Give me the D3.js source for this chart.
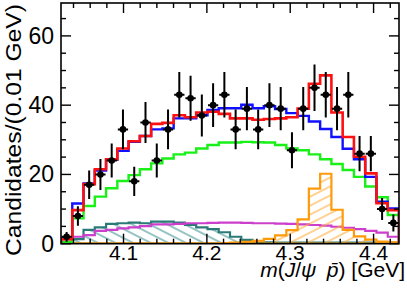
<!DOCTYPE html>
<html>
<head>
<meta charset="utf-8">
<script src="https://cdn.jsdelivr.net/npm/d3@7"></script>
<style>
    html, body { margin: 0; padding: 0; background: #fff; }
    svg { display: block; }
    text { font-family: 'Liberation Sans', Arial, sans-serif; }
</style>
</head>
<body>
<div id="chart"></div>
<script>
'use strict';

// axis range and binning (30 bins across the frame)
const x_range = [4.025, 4.4305];
const n_bins = 30;
const y_range = [0, 69.5];

// tick values
const x_major = [4.1, 4.2, 4.3, 4.4];
const x_minor = [4.04, 4.06, 4.08, 4.12, 4.14, 4.16, 4.18, 4.22, 4.24, 4.26, 4.28, 4.32, 4.34, 4.36, 4.38, 4.42];
const y_major = [0, 20, 40, 60];
const y_minor = [5, 10, 15, 25, 30, 35, 45, 50, 55, 65];

// data (candidates per bin)
const data_counts = [2, 8, 17, 20, 24, 33, 18, 35, 24, 33,
                     43, 42, 37, 40, 43, 33, 39, 33, 40, 39,
                     27, 39, 45, 43, 39, 43, 26, 26, 10, 6];

// fit with the Pc state (red)
const fit_red = [1.3, 9.7, 17.2, 21.5, 24.4, 27.5, 29.6, 31.1, 34.6, 34.9,
                 37.1, 36.5, 37.9, 38.1, 37.5, 36.2, 36.2, 35.8, 36.0, 36.2,
                 36.5, 39.0, 46.2, 48.6, 37.9, 30.8, 25.1, 20.3, 11.7, 9.7];

// fit without the Pc state (blue)
const fit_blue = [1.5, 11.6, 17.4, 21.1, 24.2, 26.8, 29.4, 31.1, 33.0, 33.3,
                  36.2, 36.2, 37.1, 38.6, 39.1, 39.1, 40.1, 39.1, 39.7, 38.9,
                  37.7, 36.9, 35.3, 33.1, 30.8, 27.4, 24.4, 19.3, 12.1, 10.2];

// components
const comp_green = [0.5, 7.3, 10.9, 13.6, 16.0, 18.1, 19.8, 21.5, 23.2, 24.6,
                    25.8, 26.3, 27.5, 28.5, 29.2, 29.2, 29.4, 29.3, 29.2, 28.5,
                    27.5, 27.0, 25.8, 24.4, 23.0, 21.3, 19.3, 16.5, 13.4, 8.3];

const comp_teal = [0.3, 1.3, 4.0, 4.7, 5.7, 5.9, 6.1, 5.9, 6.4, 6.4,
                   6.1, 5.4, 4.7, 4.2, 3.3, 2.0, 1.1, 0.6, 0.4, 0.3,
                   0.3, 0.3, 0.3, 0.3, 0.3, 0.3, 0.3, 0.3, 0.3, 0.3];

const comp_magenta = [0.6, 2.0, 2.5, 3.7, 4.0, 4.4, 4.7, 5.1, 5.6, 5.6,
                      5.7, 5.9, 5.9, 6.0, 6.1, 6.1, 6.0, 5.9, 5.9, 5.8,
                      5.7, 5.6, 5.4, 5.2, 4.9, 4.6, 4.2, 3.7, 3.2, 2.0];

const comp_orange = [0.1, 0.1, 0.1, 0.1, 0.1, 0.1, 0.1, 0.1, 0.1, 0.1,
                     0.1, 0.1, 0.1, 0.1, 0.2, 0.3, 0.5, 0.8, 1.4, 2.4,
                     3.9, 7.0, 15.9, 20.2, 9.8, 4.0, 2.1, 1.2, 0.6, 0.4];

// layout
const W = 407, H = 297;
const margin = { left: 61, right: 8, top: 3, bottom: 53.3 };

const svg = d3.select('#chart').append('svg')
    .attr('width', W)
    .attr('height', H);

const x = d3.scaleLinear().domain(x_range).range([margin.left, W - margin.right]);
const y = d3.scaleLinear().domain(y_range).range([H - margin.bottom, margin.top]);

const bin_w = (x_range[1] - x_range[0]) / n_bins;
const edge = i => x_range[0] + i * bin_w;

// hatch patterns
const defs = svg.append('defs');
function hatch(id, color, angle){
    defs.append('pattern')
        .attr('id', id)
        .attr('patternUnits', 'userSpaceOnUse')
        .attr('width', 8).attr('height', 8)
        .attr('patternTransform', `rotate(${angle})`)
        .append('line')
        .attr('x1', 0).attr('y1', 4).attr('x2', 8).attr('y2', 4)
        .attr('stroke', color)
        .attr('stroke-width', 1.1);
}
hatch('hatch_teal', '#3f9494', 27);
hatch('hatch_orange', '#ffab3a', -27);

svg.append('clipPath').attr('id', 'frame_clip')
    .append('rect')
    .attr('x', margin.left).attr('y', margin.top)
    .attr('width', W - margin.left - margin.right)
    .attr('height', H - margin.top - margin.bottom);

const plot = svg.append('g').attr('clip-path', 'url(#frame_clip)');

// step outline of a histogram
function step_points(values){
    const pts = [[edge(0), 0]];
    values.forEach((v, i) => {
        pts.push([edge(i), v]);
        pts.push([edge(i + 1), v]);
    });
    pts.push([edge(values.length), 0]);
    return pts;
}
const line = d3.line().x(d => x(d[0])).y(d => y(d[1]));

function draw_hist(values, color, width, fill){
    plot.append('path')
        .attr('d', line(step_points(values)) + (fill ? 'Z' : ''))
        .attr('fill', fill || 'none')
        .attr('stroke', color)
        .attr('stroke-width', width)
        .attr('stroke-linejoin', 'miter');
}

draw_hist(comp_teal, '#2a7b78', 2.2, 'url(#hatch_teal)');
draw_hist(comp_magenta, '#cc3fcc', 2.2);
draw_hist(comp_orange, '#ff9a0a', 2.2, 'url(#hatch_orange)');
draw_hist(comp_green, '#18f018', 2.4);
draw_hist(fit_blue, '#1010ff', 2.4);
draw_hist(fit_red, '#ff1010', 2.6);

// data points with poisson errors
const pts_g = plot.append('g');
pts_g.selectAll('line.yerr')
    .data(data_counts)
    .enter()
    .append('line')
    .attr('x1', (d, i) => x(edge(i + 0.5)))
    .attr('x2', (d, i) => x(edge(i + 0.5)))
    .attr('y1', d => y(d - Math.sqrt(d)))
    .attr('y2', d => y(d + Math.sqrt(d)))
    .attr('stroke', '#000')
    .attr('stroke-width', 2);
pts_g.selectAll('line.xerr')
    .data(data_counts)
    .enter()
    .append('line')
    .attr('x1', (d, i) => x(edge(i)) + 0.5)
    .attr('x2', (d, i) => x(edge(i + 1)) - 0.5)
    .attr('y1', d => y(d))
    .attr('y2', d => y(d))
    .attr('stroke', '#000')
    .attr('stroke-width', 2);
pts_g.selectAll('circle')
    .data(data_counts)
    .enter()
    .append('circle')
    .attr('cx', (d, i) => x(edge(i + 0.5)))
    .attr('cy', d => y(d))
    .attr('r', 3.3)
    .attr('fill', '#000');

// frame
const x0 = x(x_range[0]), x1 = x(x_range[1]);
const y0 = y(y_range[0]), y1 = y(y_range[1]);
svg.append('rect')
    .attr('x', x0).attr('y', y1)
    .attr('width', x1 - x0).attr('height', y0 - y1)
    .attr('fill', 'none')
    .attr('stroke', '#000')
    .attr('stroke-width', 1.6);

// ticks on all four sides, pointing inwards
const ticks_g = svg.append('g').attr('stroke', '#000').attr('stroke-width', 1.4);
function x_ticks(vals, len){
    vals.forEach(v => {
        ticks_g.append('line').attr('x1', x(v)).attr('x2', x(v)).attr('y1', y0).attr('y2', y0 - len);
        ticks_g.append('line').attr('x1', x(v)).attr('x2', x(v)).attr('y1', y1).attr('y2', y1 + len);
    });
}
function y_ticks(vals, len){
    vals.forEach(v => {
        ticks_g.append('line').attr('x1', x0).attr('x2', x0 + len).attr('y1', y(v)).attr('y2', y(v));
        ticks_g.append('line').attr('x1', x1).attr('x2', x1 - len).attr('y1', y(v)).attr('y2', y(v));
    });
}
x_ticks(x_major, 10);
x_ticks(x_minor, 5);
y_ticks(y_major, 10);
y_ticks(y_minor, 5);

// tick labels
svg.append('g').selectAll('text')
    .data(x_major)
    .enter()
    .append('text')
    .attr('x', d => x(d))
    .attr('y', 260)
    .attr('text-anchor', 'middle')
    .attr('font-size', '21px')
    .text(d => d.toFixed(1));

svg.append('g').selectAll('text')
    .data(y_major)
    .enter()
    .append('text')
    .attr('x', 54)
    .attr('y', d => y(d) + 8)
    .attr('text-anchor', 'end')
    .attr('font-size', '23px')
    .text(d => d);

// axis titles
svg.append('text')
    .attr('transform', 'translate(21,4) rotate(-90)')
    .attr('text-anchor', 'end')
    .attr('font-size', '22px')
    .attr('textLength', 252)
    .attr('lengthAdjust', 'spacingAndGlyphs')
    .text('Candidates/(0.01 GeV)');

const xt = svg.append('text')
    .attr('x', 405)
    .attr('y', 277)
    .attr('text-anchor', 'end')
    .attr('font-size', '21px');
xt.append('tspan').attr('font-style', 'italic').text('m');
xt.append('tspan').text('(');
xt.append('tspan').attr('font-style', 'italic').text('J');
xt.append('tspan').text('/');
xt.append('tspan').attr('font-style', 'italic').text('ψ\u2002p\u0304');
xt.append('tspan').text(') [GeV]');
</script>
</body>
</html>
